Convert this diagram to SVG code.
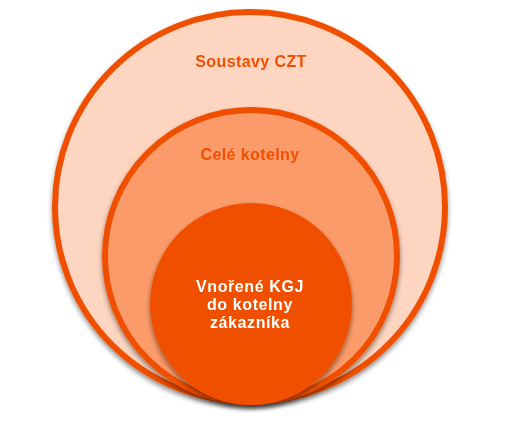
<svg xmlns="http://www.w3.org/2000/svg" width="516" height="426" viewBox="0 0 516 426">
<defs>
<filter id="sh" x="-20%" y="-20%" width="140%" height="140%">
<feGaussianBlur in="SourceAlpha" stdDeviation="2.5"/>
<feOffset dy="3" result="b"/>
<feComponentTransfer in="b" result="c"><feFuncA type="linear" slope="0.45"/></feComponentTransfer>
<feMerge><feMergeNode in="c"/><feMergeNode in="SourceGraphic"/></feMerge>
</filter>
<style>
.lbl{font-family:"Liberation Sans",Arial,sans-serif;font-weight:bold;font-size:16px;letter-spacing:0.4px;text-anchor:middle;fill:#F05000}
.w{fill:#FFFFFF;font-size:16px;letter-spacing:0.6px}
</style>
</defs>
<rect width="516" height="426" fill="#FFFFFF"/>
<g id="outer" filter="url(#sh)">
<circle cx="250" cy="207" r="195" fill="#FDD5C0" stroke="#F05000" stroke-width="6"/>
<text class="lbl" x="251" y="67">Soustavy CZT</text>
</g>
<g id="middle" filter="url(#sh)">
<circle cx="251" cy="256" r="146" fill="#FB9B6B" stroke="#F05000" stroke-width="6"/>
<text class="lbl" x="250" y="160">Celé kotelny</text>
</g>
<g id="inner" filter="url(#sh)">
<circle cx="251" cy="304" r="101" fill="#F05000"/>
<text class="lbl w" x="250" y="292">Vnořené KGJ</text>
<text class="lbl w" x="250" y="310">do kotelny</text>
<text class="lbl w" x="250" y="328">zákazníka</text>
</g>
</svg>
